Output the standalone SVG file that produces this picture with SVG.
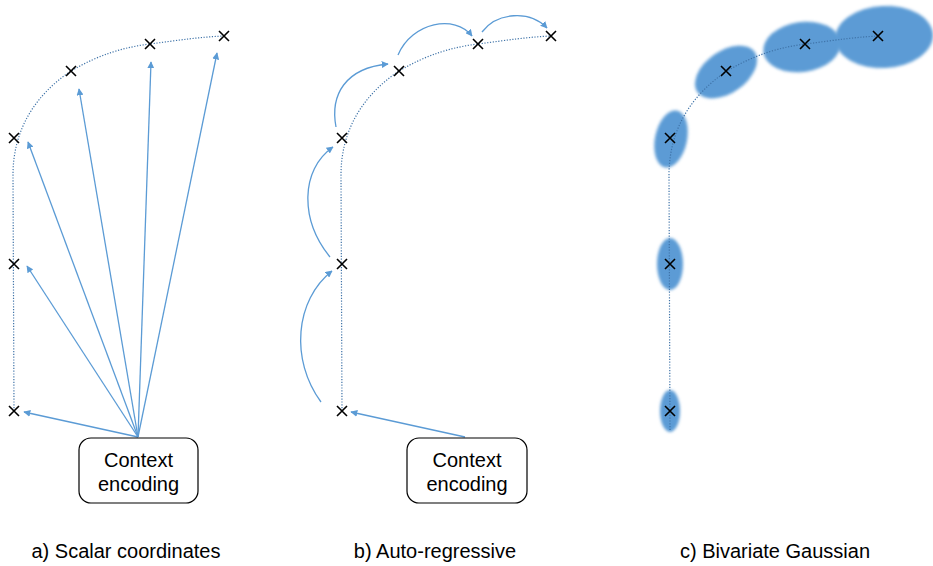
<svg xmlns="http://www.w3.org/2000/svg" width="933" height="566" viewBox="0 0 933 566">
  <style>
    .trace { fill: none; stroke: #3f73a8; stroke-width: 1.2; stroke-dasharray: 1.2 1.6; }
    .arrow { fill: none; stroke: #5b9bd5; stroke-width: 1.3; marker-end: url(#head); }
    .cross { stroke: #000; stroke-width: 1.6; fill: none; }
    .box { fill: #fff; stroke: #000; stroke-width: 1.2; }
    .boxtxt { font-family: "Liberation Sans", Arial, sans-serif; font-size: 20px; fill: #000; text-anchor: middle; }
    .caption { font-family: "Liberation Sans", Arial, sans-serif; font-size: 20px; fill: #000; text-anchor: middle; }
    .blob { fill: #5b9bd5; filter: url(#soft); }
  </style>
  <defs>
    <marker id="head" viewBox="0 0 10 10" refX="9" refY="5" markerWidth="7" markerHeight="7" markerUnits="userSpaceOnUse" orient="auto">
      <path d="M0,0 L10,5 L0,10 Z" fill="#5b9bd5"/>
    </marker>
    <filter id="soft" x="-30%" y="-30%" width="160%" height="160%">
      <feGaussianBlur stdDeviation="1.6"/>
    </filter>
    <path id="x" class="cross" d="M-5,-5 L5,5 M-5,5 L5,-5"/>
  </defs>

  <!-- a) Scalar coordinates -->
  <g id="panel-a">
    <path class="trace" d="M14,411 L13,175 C13,130 35,95 71,71 C100,54 125,47 150,44 C180,40 200,37 224,36"/>
    <g id="a-connectors">
      <path class="arrow" d="M138,437 L24,412"/>
      <path class="arrow" d="M138,437 L27,266"/>
      <path class="arrow" d="M138,437 L28,142"/>
      <path class="arrow" d="M138,437 L79,89"/>
      <path class="arrow" d="M138,437 L151,62"/>
      <path class="arrow" d="M138,437 L217,53"/>
    </g>
    <g id="a-points">
      <use href="#x" x="14" y="411"/>
      <use href="#x" x="14" y="264"/>
      <use href="#x" x="14" y="138"/>
      <use href="#x" x="71" y="71"/>
      <use href="#x" x="150" y="44"/>
      <use href="#x" x="224" y="36"/>
    </g>
    <g id="a-context">
      <rect class="box" x="79" y="438" width="119" height="65" rx="12"/>
      <text class="boxtxt" x="138.5" y="467">Context</text>
      <text class="boxtxt" x="138.5" y="491">encoding</text>
    </g>
    <text class="caption" x="126" y="558">a) Scalar coordinates</text>
  </g>

  <!-- b) Auto-regressive -->
  <g id="panel-b">
    <path class="trace" d="M342,411 L341,175 C341,130 363,95 399,71 C428,54 453,47 478,44 C508,40 528,37 551,36"/>
    <g id="b-connectors">
      <path class="arrow" d="M465,437 L351,412"/>
      <path class="arrow" d="M321,402 C290,360 295,300 332,271"/>
      <path class="arrow" d="M330,257 C300,220 300,170 333,147"/>
      <path class="arrow" d="M336,127 C330,95 345,68 388,64"/>
      <path class="arrow" d="M398,55 C412,22 455,14 472,36"/>
      <path class="arrow" d="M482,32 C497,12 530,10 547,28"/>
    </g>
    <g id="b-points">
      <use href="#x" x="342" y="411"/>
      <use href="#x" x="342" y="264"/>
      <use href="#x" x="342" y="138"/>
      <use href="#x" x="399" y="71"/>
      <use href="#x" x="478" y="44"/>
      <use href="#x" x="551" y="36"/>
    </g>
    <g id="b-context">
      <rect class="box" x="407" y="438" width="120" height="65" rx="12"/>
      <text class="boxtxt" x="467" y="467">Context</text>
      <text class="boxtxt" x="467" y="491">encoding</text>
    </g>
    <text class="caption" x="435" y="558">b) Auto-regressive</text>
  </g>

  <!-- c) Bivariate Gaussian -->
  <g id="panel-c">
    <g id="c-densities">
      <ellipse class="blob" cx="670" cy="411" rx="10" ry="21"/>
      <ellipse class="blob" cx="670" cy="264" rx="13" ry="26"/>
      <ellipse class="blob" cx="671" cy="139" rx="16" ry="29" transform="rotate(12 671 139)"/>
      <ellipse class="blob" cx="726" cy="72" rx="35" ry="21" transform="rotate(-35 726 72)"/>
      <ellipse class="blob" cx="802" cy="47" rx="39" ry="25" transform="rotate(-8 802 47)"/>
      <ellipse class="blob" cx="884" cy="37" rx="49" ry="31" transform="rotate(-3 884 37)"/>
    </g>
    <path class="trace" d="M670,430 L669,175 C669,130 691,95 727,71 C756,54 781,47 806,44 C836,40 856,37 879,36"/>
    <g id="c-points">
      <use href="#x" x="670" y="411"/>
      <use href="#x" x="670" y="264"/>
      <use href="#x" x="670" y="138"/>
      <use href="#x" x="726" y="71"/>
      <use href="#x" x="805" y="44"/>
      <use href="#x" x="878" y="36"/>
    </g>
    <text class="caption" x="775" y="558">c) Bivariate Gaussian</text>
  </g>
</svg>
